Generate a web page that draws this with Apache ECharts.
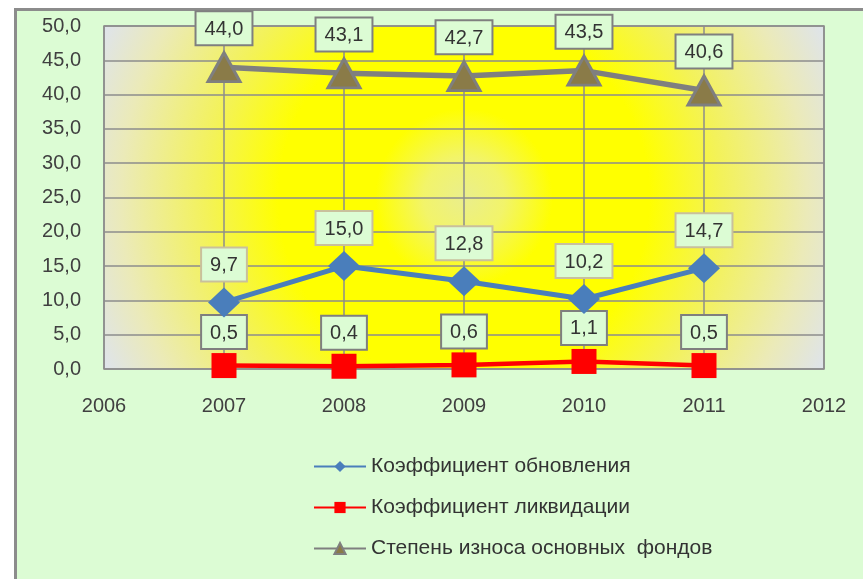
<!DOCTYPE html>
<html><head><meta charset="utf-8">
<script src="https://cdn.jsdelivr.net/npm/echarts@6/dist/echarts.min.js"></script>
<style>
html,body{margin:0;padding:0;background:#fff;}
#bg{position:absolute;left:14px;top:8px;width:880px;height:600px;border-left:3px solid #8c8c8c;border-top:3px solid #8c8c8c;background:#dcfcd4;}
#c{position:absolute;left:0;top:0;width:863px;height:579px;}
</style></head>
<body>
<div id="bg"></div>
<div id="c"></div>
<script>
const years = [2007, 2008, 2009, 2010, 2011];
const renewal = [9.7, 15.0, 12.8, 10.2, 14.7];
const liquidation = [0.5, 0.4, 0.6, 1.1, 0.5];
const wear = [44.0, 43.1, 42.7, 43.5, 40.6];
const seriesNames = ['Коэффициент обновления', 'Коэффициент ликвидации', 'Степень износа основных  фондов'];

const fmt = v => v.toFixed(1).replace('.', ',');
const pairs = arr => years.map((y, i) => [y, arr[i]]);
const font = 'Liberation Sans, Arial, sans-serif';

function lbl(border, dist) {
  return {
    show: true, position: 'top', distance: dist,
    formatter: p => fmt(p.value[1]),
    fontFamily: font, fontSize: 20, lineHeight: 22, color: '#333',
    backgroundColor: '#dcfcd4', borderColor: border, borderWidth: 2,
    padding: [6, 8, 4, 8]
  };
}

const chart = echarts.init(document.getElementById('c'), null, {renderer: 'canvas'});
chart.setOption({
  backgroundColor: 'transparent',
  animation: false,
  textStyle: {fontFamily: font},
  grid: {
    left: 104, right: 39, top: 26, bottom: 210,
    show: true, borderColor: '#8c8c8c', borderWidth: 1.5,
    backgroundColor: {
      type: 'radial', x: 0.5, y: 0.5, r: 1.17,
      colorStops: [
        {offset: 0, color: '#eaee8c'},
        {offset: 0.1, color: '#f2f46a'},
        {offset: 0.22, color: '#ffff00'},
        {offset: 0.46, color: '#ffff00'},
        {offset: 0.64, color: '#f3f25a'},
        {offset: 0.85, color: '#ebeab8'},
        {offset: 1, color: '#dde3f0'}
      ]
    }
  },
  xAxis: {
    type: 'value', min: 2006, max: 2012, interval: 1,
    axisLine: {show: false}, axisTick: {show: false},
    splitLine: {show: true, lineStyle: {color: '#8c8c8c', width: 1.5}},
    axisLabel: {formatter: v => String(v), fontSize: 20, color: '#404040', margin: 27, fontFamily: font}
  },
  yAxis: {
    type: 'value', min: 0, max: 50, interval: 5,
    axisLine: {show: false}, axisTick: {show: false},
    splitLine: {show: true, lineStyle: {color: '#8c8c8c', width: 1.5}},
    axisLabel: {formatter: v => fmt(v), fontSize: 20, color: '#404040', margin: 23, fontFamily: font}
  },
  legend: {
    orient: 'vertical', left: 313, top: 456, itemGap: 20, padding: 0,
    itemWidth: 52, itemHeight: 14,
    textStyle: {fontSize: 21, color: '#333', fontFamily: font},
    data: seriesNames
  },
  series: [
    {
      name: seriesNames[0], type: 'line', data: pairs(renewal),
      symbol: 'diamond', symbolSize: [32, 30],
      lineStyle: {color: '#4a7ebb', width: 5},
      itemStyle: {color: '#4a7ebb'},
      label: lbl('#c9c09c', 7), z: 3
    },
    {
      name: seriesNames[1], type: 'line', data: pairs(liquidation),
      symbol: 'rect', symbolSize: 25,
      lineStyle: {color: '#ff0000', width: 4.5},
      itemStyle: {color: '#ff0000'},
      label: lbl('#7f7f7f', 5), z: 2
    },
    {
      name: seriesNames[2], type: 'line', data: pairs(wear),
      symbol: 'triangle', symbolSize: [32, 29],
      lineStyle: {color: '#7f7f7f', width: 5.5},
      itemStyle: {color: '#8a7b48', borderColor: '#7f7f7f', borderWidth: 3},
      label: lbl('#7f7f7f', 7), z: 4
    }
  ]
});
</script>
</body></html>
